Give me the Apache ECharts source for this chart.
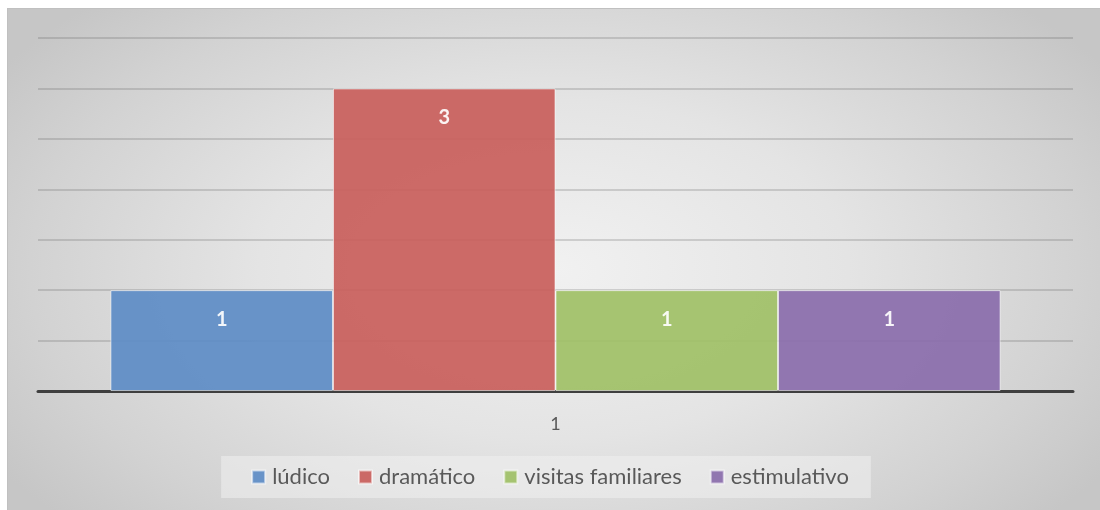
<!DOCTYPE html>
<html>
<head>
<meta charset="utf-8">
<script src="https://cdn.jsdelivr.net/npm/echarts@6/dist/echarts.min.js"></script>
<style>
html,body{margin:0;padding:0;background:#fff;}
#bg{position:absolute;left:7px;top:8px;width:1092px;height:501px;border:1px solid #c0c0c0;border-right:none;border-bottom:none;
background:radial-gradient(ellipse 60% 75% at 50% 52%, #f1f1f1 0%, #e4e4e4 45%, #d2d2d2 80%, #c6c6c6 100%);}
#chart{position:absolute;left:0;top:0;width:1100px;height:510px;}
</style>
</head>
<body>
<div id="bg"></div>
<div id="chart"></div>
<script>
const categories = ['1'];
const seriesNames = ['lúdico', 'dramático', 'visitas familiares', 'estimulativo'];
const seriesValues = [[1], [3], [1], [1]];
const colors = ['#5d8cc6', '#c95e5b', '#9fc066', '#8a6dab'];

const chart = echarts.init(document.getElementById('chart'), null, {renderer: 'canvas'});
const font = 'Lato, "Open Sans", sans-serif';
chart.setOption({
  backgroundColor: 'transparent',
  animation: false,
  grid: {left: 38, right: 27, top: 38, bottom: 119, containLabel: false},
  legend: {
    bottom: 12, left: 'center',
    data: seriesNames,
    icon: 'rect', itemWidth: 13, itemHeight: 13, itemGap: 28,
    padding: [10, 22, 10, 30],
    backgroundColor: 'rgba(240,240,240,0.55)',
    textStyle: {fontFamily: font, fontSize: 22, color: '#595959', padding: [0, 0, 0, 2]}
  },
  xAxis: {
    type: 'category', data: categories,
    axisLine: {lineStyle: {color: '#3f3f3f', width: 3}},
    axisTick: {show: false},
    axisLabel: {fontFamily: font, fontSize: 18, color: '#595959', margin: 24}
  },
  yAxis: {
    type: 'value', min: 0, max: 3.5, interval: 0.5,
    axisLabel: {show: false}, axisLine: {show: false}, axisTick: {show: false},
    splitLine: {lineStyle: {color: 'rgba(90,90,90,0.3)', width: 1.5}}
  },
  series: seriesNames.map((n, i) => ({
    name: n, type: 'bar', data: seriesValues[i],
    barGap: '0%', barCategoryGap: '14%',
    itemStyle: {color: colors[i], opacity: 0.92, borderColor: 'rgba(255,255,255,0.6)', borderWidth: 1},
    label: {show: true, position: 'insideTop', distance: 19, color: '#ffffff', fontWeight: 'bold', fontSize: 20, fontFamily: font}
  }))
});
</script>
</body>
</html>
